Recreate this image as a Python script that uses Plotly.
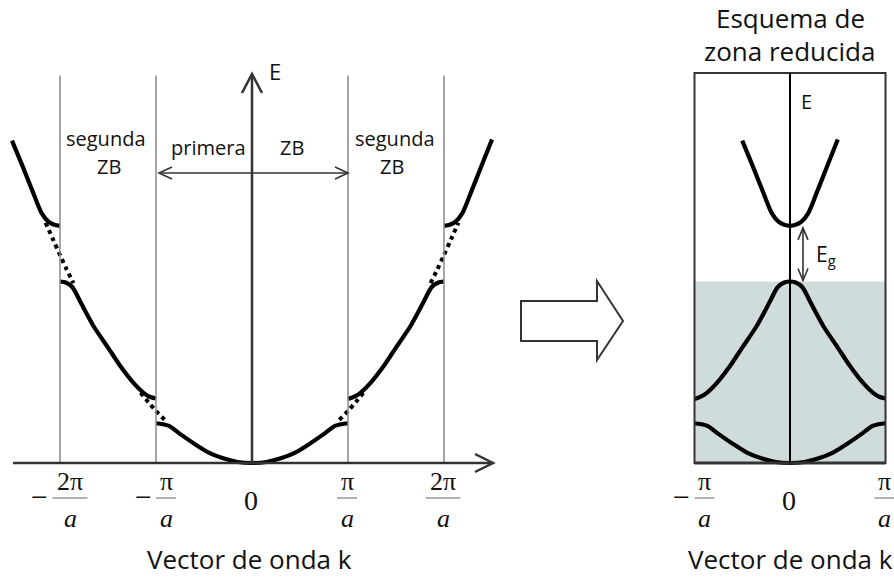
import plotly.graph_objects as go

# ---------------------------------------------------------------
# Band data: k in units of pi/a, E in arbitrary energy units
# ---------------------------------------------------------------
# first band (first Brillouin zone)
K_BAND1 = [-1.00, -0.94, -0.86, -0.75, -0.60, -0.45, -0.30, -0.15, 0.00,
           0.15, 0.30, 0.45, 0.60, 0.75, 0.86, 0.94, 1.00]
E_BAND1 = [0.765, 0.75, 0.71, 0.56, 0.37, 0.20, 0.09, 0.02, 0.00,
           0.02, 0.09, 0.20, 0.37, 0.56, 0.71, 0.75, 0.765]

# second band (second zone, negative and positive halves)
K_BAND2_NEG = [-2.00, -1.94, -1.87, -1.78, -1.65, -1.50, -1.37, -1.23, -1.13, -1.06, -1.00]
E_BAND2_NEG = [3.49, 3.47, 3.38, 3.07, 2.63, 2.22, 1.86, 1.53, 1.35, 1.27, 1.24]
K_BAND2_POS = [1.00, 1.06, 1.13, 1.23, 1.37, 1.50, 1.65, 1.78, 1.87, 1.94, 2.00]
E_BAND2_POS = [1.23, 1.27, 1.35, 1.53, 1.86, 2.22, 2.63, 3.07, 3.38, 3.47, 3.49]

# third band (beyond 2*pi/a)
K_BAND3_NEG = [-2.50, -2.39, -2.28, -2.19, -2.12, -2.06, -2.00]
E_BAND3_NEG = [6.20, 5.71, 5.20, 4.80, 4.64, 4.58, 4.56]
K_BAND3_POS = [2.00, 2.06, 2.12, 2.19, 2.28, 2.39, 2.50]
E_BAND3_POS = [4.56, 4.58, 4.64, 4.80, 5.20, 5.71, 6.22]

# free-electron parabola through the gaps (dotted pieces)
K_FREE = [[-2.15, -2.08, -2.00, -1.93, -1.86],
          [-1.16, -1.08, -1.00, -0.91],
          [0.91, 1.00, 1.08, 1.16],
          [1.86, 1.93, 2.00, 2.08, 2.15]]
E_FREE = [[4.62, 4.33, 4.00, 3.72, 3.46],
          [1.35, 1.17, 1.00, 0.83],
          [0.83, 1.00, 1.17, 1.35],
          [3.46, 3.72, 4.00, 4.33, 4.62]]

# tick labels (k in pi/a)
TICK_K_EXT = [-2, -1, 0, 1, 2]
TICK_K_RED = [-1, 0, 1]
TICK_NUM = {-2: "2π", -1: "π", 0: "0", 1: "π", 2: "2π"}

# ---------------------------------------------------------------
# Geometry of the page (pixels)
# ---------------------------------------------------------------
W, H = 894, 578
Y0 = 463          # pixel row of E = 0
PX_E = 52.0       # pixels per energy unit
X0_EXT, PX_K_EXT = 252.0, 96.0   # extended-zone panel
X0_RED, PX_K_RED = 790.0, 95.5   # reduced-zone panel
E_TOP = 7.45

INK = "#111111"
AXC = "#333333"
GRID = "#8a8a8a"
SHADE = "#d0dcdc"
SANS = "Open Sans"
SERIF = "Liberation Serif"


def ypx(e):
    return Y0 - PX_E * e


def xpx_ext(k):
    return X0_EXT + PX_K_EXT * k


def xpx_red(k):
    return X0_RED + PX_K_RED * k


fig = go.Figure()


def add_curve(k, e, xa, ya, dash=None, width=4.2, smoothing=0.7):
    fig.add_trace(go.Scatter(
        x=k, y=e, mode="lines", xaxis=xa, yaxis=ya,
        line=dict(color="black", width=width, shape="spline",
                  smoothing=smoothing, dash=dash),
        hoverinfo="skip", showlegend=False))


# extended-zone scheme
add_curve(K_BAND1, E_BAND1, "x", "y")
add_curve(K_BAND2_NEG, E_BAND2_NEG, "x", "y")
add_curve(K_BAND2_POS, E_BAND2_POS, "x", "y")
add_curve(K_BAND3_NEG, E_BAND3_NEG, "x", "y")
add_curve(K_BAND3_POS, E_BAND3_POS, "x", "y")
for kf, ef in zip(K_FREE, E_FREE):
    add_curve(kf, ef, "x", "y", dash="4px,4px", width=4, smoothing=0)

# reduced-zone scheme: bands folded back by reciprocal lattice vectors (2 pi/a)
kb = [k - 2 for k in K_BAND2_POS] + [k + 2 for k in K_BAND2_NEG[1:]]
eb = E_BAND2_POS + E_BAND2_NEG[1:]
kc = [k + 2 for k in K_BAND3_NEG] + [k - 2 for k in K_BAND3_POS[1:]]
ec = E_BAND3_NEG + E_BAND3_POS[1:]
add_curve(K_BAND1, E_BAND1, "x2", "y2")
add_curve(kb, eb, "x2", "y2")
add_curve(kc, ec, "x2", "y2")

# empty trace so the pixel overlay axes exist
fig.add_trace(go.Scatter(x=[], y=[], xaxis="x3", yaxis="y3",
                         showlegend=False, hoverinfo="skip"))

shapes = []

# reduced zone: shaded filled states, box, E axis
e_vb_top = max(eb)
e_cb_bot = min(ec)
shapes.append(dict(type="rect", xref="x2", yref="y2", x0=-1, x1=1, y0=0,
                   y1=e_vb_top, fillcolor=SHADE, line=dict(width=0),
                   layer="below"))
shapes.append(dict(type="rect", xref="x2", yref="y2", x0=-1, x1=1, y0=0,
                   y1=E_TOP + 0.05, line=dict(color=AXC, width=2)))
shapes.append(dict(type="line", xref="x2", yref="y2", x0=-1, x1=1, y0=0,
                   y1=0, line=dict(color=AXC, width=3)))
shapes.append(dict(type="line", xref="x2", yref="y2", x0=0, x1=0, y0=0,
                   y1=E_TOP + 0.05, line=dict(color="black", width=2)))

# extended zone: zone boundaries
for k in TICK_K_EXT:
    if k != 0:
        shapes.append(dict(type="line", xref="x", yref="y", x0=k, x1=k,
                           y0=0, y1=E_TOP, line=dict(color=GRID, width=1.5)))


def path(points, close=False):
    s = "M " + " L ".join(f"{x:.1f},{y:.1f}" for x, y in points)
    return s + (" Z" if close else "")


def pshape(points, color=AXC, width=2.5, close=False):
    shapes.append(dict(type="path", xref="x3", yref="y3",
                       path=path(points, close),
                       line=dict(color=color, width=width)))


# k axis with arrow
pshape([(13, Y0), (493, Y0)])
pshape([(475, Y0 - 9), (493, Y0), (475, Y0 + 9)])
# E axis with arrow
pshape([(X0_EXT, Y0), (X0_EXT, 74)])
pshape([(X0_EXT - 10, 93), (X0_EXT, 74), (X0_EXT + 10, 93)])

# first-zone double arrow
ya = 173
xl, xr = xpx_ext(-1) + 3, xpx_ext(1)
pshape([(xl, ya), (xr, ya)], width=1.6)
pshape([(xl + 13, ya - 6), (xl, ya), (xl + 13, ya + 6)], width=1.6)
pshape([(xr - 13, ya - 6), (xr, ya), (xr - 13, ya + 6)], width=1.6)

# band gap arrow
xg = 803
yt, yb = ypx(e_cb_bot) + 2, ypx(e_vb_top) - 1
pshape([(xg, yt), (xg, yb)], width=1.6)
pshape([(xg - 5, yt + 12), (xg, yt), (xg + 5, yt + 12)], width=1.6)
pshape([(xg - 5, yb - 12), (xg, yb), (xg + 5, yb - 12)], width=1.6)

# hollow arrow between panels
pshape([(521, 301), (597, 301), (597, 281), (623, 321), (597, 360),
        (597, 341), (521, 341)], width=2, close=True)

annotations = []


def text(t, x, y, size, anchor="center", font=SANS, color=INK):
    annotations.append(dict(text=t, x=x, y=y, xref="x3", yref="y3",
                            xanchor=anchor, yanchor="middle",
                            showarrow=False,
                            font=dict(family=font, size=size, color=color)))


# zone labels
text("segunda", 106, 138, 20)
text("ZB", 109, 166, 20)
text("primera", 208, 147, 20)
text("ZB", 292, 147, 20)
text("segunda", 395, 138, 20)
text("ZB", 392, 166, 20)
text("E", 275, 71, 22)
text("Vector de onda k", 249, 559, 26)

# reduced-zone texts
text("Esquema de", 790, 18, 26)
text("zona reducida", 789, 51, 26)
text("E", 806, 101, 20)
text("E<sub>g</sub>", 814, 255, 21, anchor="left")
text("Vector de onda k", 790, 559, 26)


def tick_label(k, xc):
    num = TICK_NUM[k]
    if k == 0:
        text("0", xc - 1, 500, 28, font=SERIF)
        return
    bar_w = 35 if "2" in num else 20
    if k < 0:
        total = 14 + 6 + bar_w
        x_start = xc - total / 2
        text("−", x_start + 7, 496, 30, font=SERIF)
        fc = x_start + 20 + bar_w / 2
    else:
        fc = xc - 1
    text(num, fc, 481, 26, font=SERIF)
    text("<i>a</i>", fc, 518, 26, font=SERIF)
    pshape([(fc - bar_w / 2, 498), (fc + bar_w / 2, 498)], color="#666666",
           width=1)


for k in TICK_K_EXT:
    tick_label(k, xpx_ext(k))
for k in TICK_K_RED:
    tick_label(k, xpx_red(k))

noax = dict(visible=False, fixedrange=True)
fig.update_layout(
    width=W, height=H, autosize=False,
    margin=dict(l=0, r=0, t=0, b=0),
    paper_bgcolor="white", plot_bgcolor="rgba(0,0,0,0)",
    xaxis=dict(domain=[0, 500 / W],
               range=[-X0_EXT / PX_K_EXT, (500 - X0_EXT) / PX_K_EXT],
               anchor="y", **noax),
    yaxis=dict(domain=[0, 1], range=[(Y0 - H) / PX_E, Y0 / PX_E],
               anchor="x", **noax),
    xaxis2=dict(domain=[680 / W, 1],
                range=[(680 - X0_RED) / PX_K_RED, (W - X0_RED) / PX_K_RED],
                anchor="y2", **noax),
    yaxis2=dict(domain=[0, 1], range=[(Y0 - H) / PX_E, Y0 / PX_E],
                anchor="x2", **noax),
    xaxis3=dict(domain=[0, 1], range=[0, W], anchor="y3", **noax),
    yaxis3=dict(domain=[0, 1], range=[H, 0], anchor="x3", **noax),
    shapes=shapes,
    annotations=annotations,
    showlegend=False,
)

fig.write_html("out.html")
